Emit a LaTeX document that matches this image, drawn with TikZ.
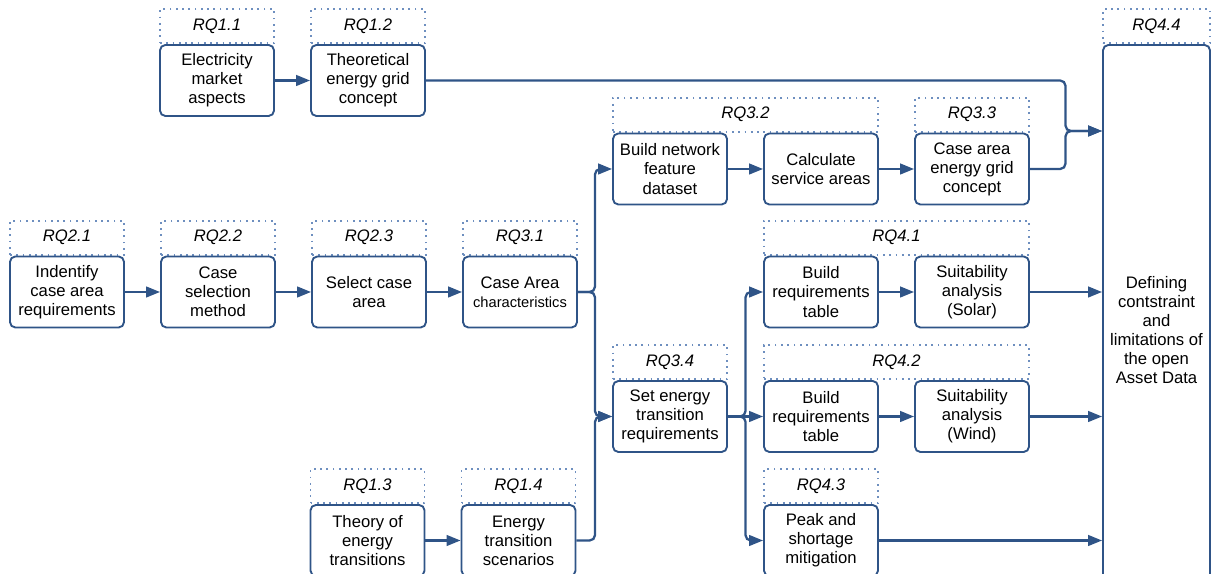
\documentclass[tikz,border=0pt]{standalone}
\usepackage{fontspec}
\setmainfont{Liberation Sans}
\usepackage{tikz}
\usetikzlibrary{positioning,arrows.meta,calc,backgrounds}

\definecolor{flowblue}{HTML}{2F5487}
\definecolor{tagblue}{HTML}{6E8FBF}

\begin{document}
\begin{tikzpicture}[
  x=0.75pt, y=0.75pt,
  box/.style={
    draw=flowblue, line width=1.4pt, rounded corners=4pt, fill=white,
    minimum width=85.5pt, minimum height=53.25pt, inner sep=2pt,
    align=center, font=\fontsize{12.5}{14.3}\selectfont
  },
  tag/.style={
    draw=tagblue, line width=1.3pt, dash pattern=on 1.3pt off 3.4pt,
    minimum width=85.5pt, minimum height=25.5pt, inner sep=0pt,
    font=\fontsize{12.5}{14.3}\selectfont\itshape
  },
  link/.style={-{Triangle[length=10.5pt,width=8pt]}, line width=1.7pt,
    draw=flowblue, rounded corners=4pt},
  node distance=26.35pt
]
  \useasboundingbox (0,0) rectangle (1217,574);
  \clip (0,0) rectangle (1217,574);

  % Row of theory questions
  \node[box] (q11) at (217,493.5) {Electricity\\market\\aspects};
  \node[box, right=of q11] (q12) {Theoretical\\energy grid\\concept};

  % Case selection row
  \node[box] (q21) at (67,282) {Indentify\\case area\\requirements};
  \node[box, right=of q21] (q22) {Case\\selection\\method};
  \node[box, right=of q22] (q23) {Select case\\area};
  \node[box, right=of q23] (q31) {Case Area\\{\fontsize{11}{13}\selectfont characteristics}};

  % Network analysis
  \node[box] (q32a) at (670,405) {Build network\\feature\\dataset};
  \node[box, right=of q32a] (q32b) {Calculate\\service areas};
  \node[box, right=of q32b] (q33) {Case area\\energy grid\\concept};

  % Suitability analyses
  \node[box] (q41a) at (821,282) {Build\\requirements\\table};
  \node[box, right=of q41a] (q41b) {Suitability\\analysis\\(Solar)};
  \node[box] (q34) at (670,157.5) {Set energy\\transition\\requirements};
  \node[box, right=of q34] (q42a) {Build\\requirements\\table};
  \node[box, right=of q42a] (q42b) {Suitability\\analysis\\(Wind)};

  % Transition row
  \node[box] (q13) at (367.5,33.5) {Theory of\\energy\\transitions};
  \node[box, right=of q13] (q14) {Energy\\transition\\scenarios};
  \node[box] (q43) at (821,33.5) {Peak and\\shortage\\mitigation};

  % Final box
  \node[box, minimum width=80.25pt, minimum height=427.5pt] (q44) at (1156.5,244)
    {Defining\\contstraint\\and\\limitations of\\the open\\Asset Data};

  % Question tags
  \begin{scope}[on background layer]
    \node[tag, above=0pt of q11] (t11) {RQ1.1};
    \node[tag, above=0pt of q12] (t12) {RQ1.2};
    \node[tag, above=0pt of q13] (t13) {RQ1.3};
    \node[tag, above=0pt of q14] (t14) {RQ1.4};
    \node[tag, above=0pt of q21] (t21) {RQ2.1};
    \node[tag, above=0pt of q22] (t22) {RQ2.2};
    \node[tag, above=0pt of q23] (t23) {RQ2.3};
    \node[tag, above=0pt of q31] (t31) {RQ3.1};
    \node[tag, minimum width=198.75pt, anchor=south west] (t32) at (q32a.north west) {RQ3.2};
    \node[tag, above=0pt of q33] (t33) {RQ3.3};
    \node[tag, above=0pt of q34] (t34) {RQ3.4};
    \node[tag, minimum width=198.75pt, anchor=south west] (t41) at (q41a.north west) {RQ4.1};
    \node[tag, minimum width=198.75pt, anchor=south west] (t42) at (q42a.north west) {RQ4.2};
    \node[tag, above=0pt of q43] (t43) {RQ4.3};
    \node[tag, minimum width=80.25pt, above=0pt of q44] (t44) {RQ4.4};
  \end{scope}

  % Junction points
  \coordinate (j3) at ($(q31.east)!0.5!(q31.east -| q32a.west)$);
  \coordinate (j5) at ($(q34.east)!0.5!(q42a.west)$);
  \coordinate (j4) at (1065.5,443);

  % Chains
  \draw[link] (q11) -- (q12);
  \draw[link] (q21) -- (q22);
  \draw[link] (q22) -- (q23);
  \draw[link] (q23) -- (q31);
  \draw[link] (q32a) -- (q32b);
  \draw[link] (q32b) -- (q33);
  \draw[link] (q41a) -- (q41b);
  \draw[link] (q42a) -- (q42b);
  \draw[link] (q13) -- (q14);

  % Branches
  \draw[link] (q31.east) -| (j3 |- q32a.west) -- (q32a.west);
  \draw[link] (q31.east) -| (j3 |- q34.west) -- (q34.west);
  \draw[link] (q14.east) -| (j3 |- q34.west) -- (q34.west);
  \draw[link] (q34.east) -- (q42a.west);
  \draw[link] (q34.east) -| (j5 |- q41a.west) -- (q41a.west);
  \draw[link] (q34.east) -| (j5 |- q43.west) -- (q43.west);

  % Into the final box
  \draw[link] (q12.east) -| (j4) -- (j4 -| q44.west);
  \draw[link] (q33.east) -| (j4) -- (j4 -| q44.west);
  \draw[link] (q41b.east) -- (q41b.east -| q44.west);
  \draw[link] (q42b.east) -- (q42b.east -| q44.west);
  \draw[link] (q43.east) -- (q43.east -| q44.west);

\end{tikzpicture}
\end{document}
